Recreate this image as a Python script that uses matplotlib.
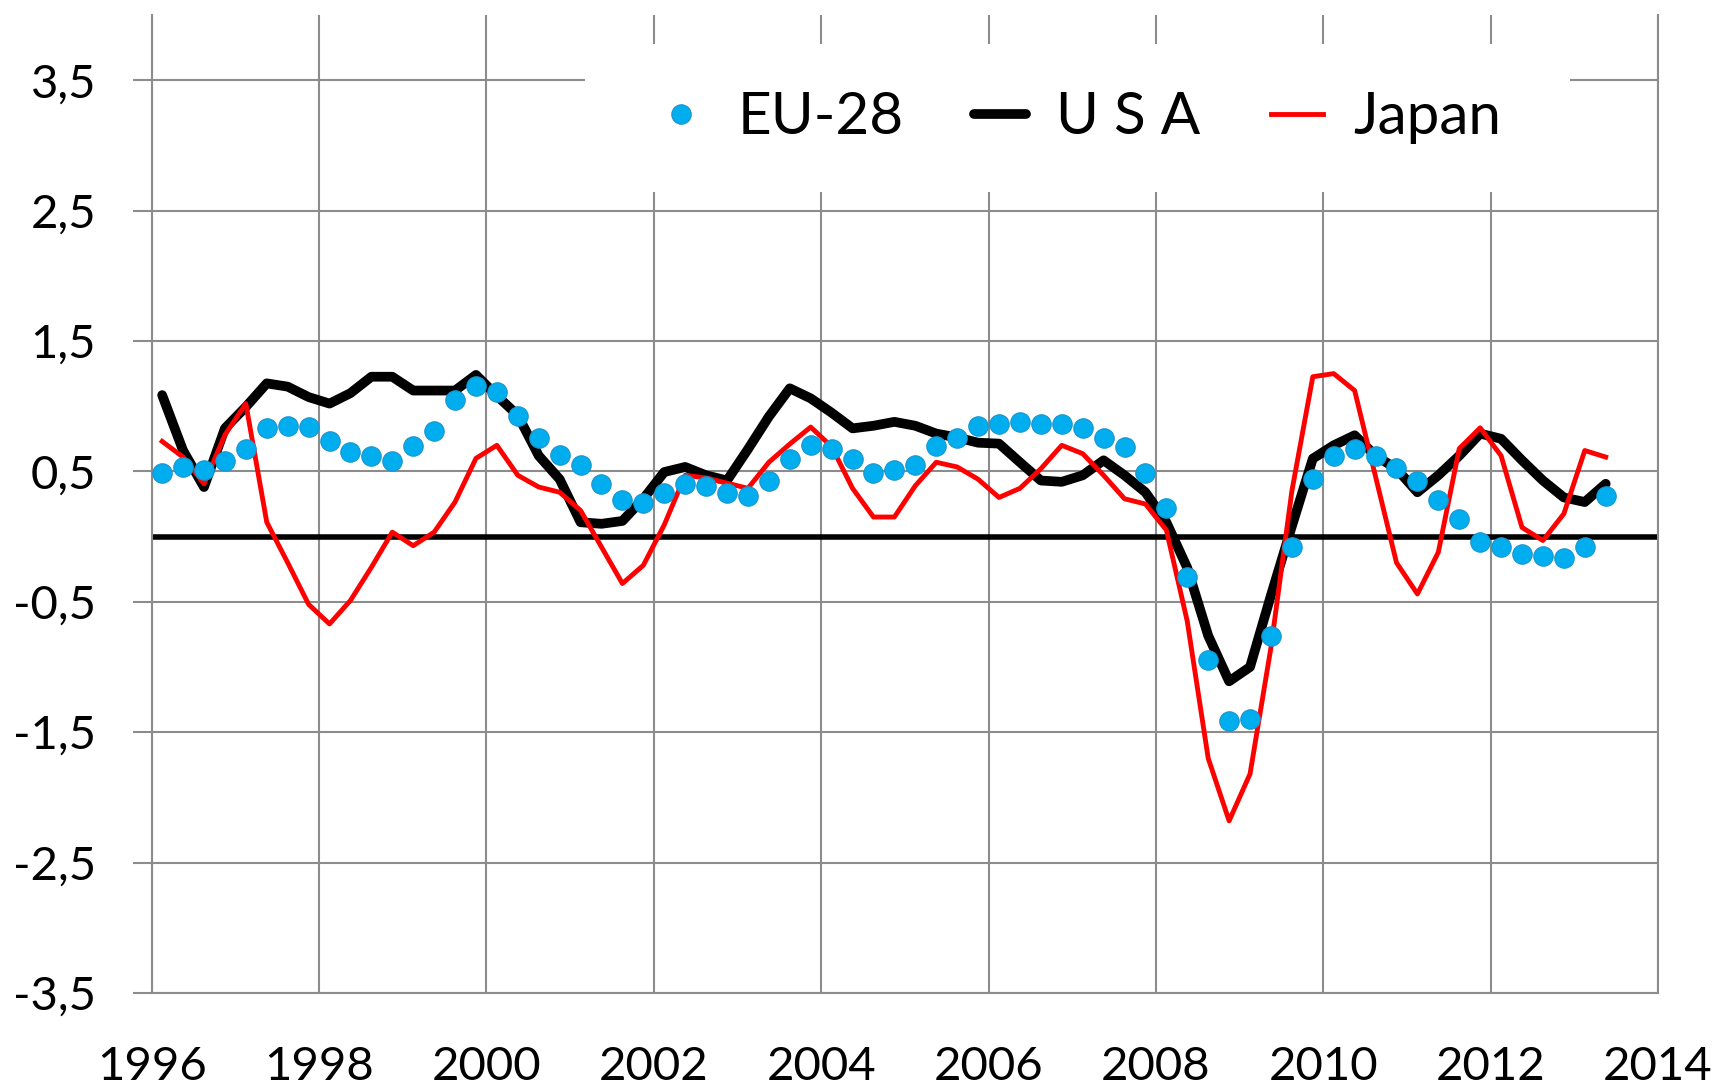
import numpy as np
import matplotlib
matplotlib.use('Agg')
import matplotlib.pyplot as plt
from matplotlib.patches import Rectangle

plt.rcParams['font.family'] = ['Lato', 'DejaVu Sans']

# quarterly values, 1996 Q1 .. 2013 Q2
eu28 = [0.49, 0.53, 0.51, 0.58, 0.67, 0.83, 0.85, 0.84, 0.73, 0.65,
        0.615, 0.58, 0.695, 0.81, 1.045, 1.155, 1.11, 0.925, 0.757, 0.628,
        0.546, 0.405, 0.277, 0.26, 0.336, 0.405, 0.388, 0.336, 0.315, 0.43,
        0.598, 0.705, 0.67, 0.598, 0.49, 0.508, 0.546, 0.695, 0.757, 0.849,
        0.867, 0.88, 0.867, 0.86, 0.834, 0.757, 0.688, 0.49, 0.22, -0.31,
        -0.95, -1.415, -1.40, -0.76, -0.08, 0.438, 0.615, 0.67, 0.615, 0.526,
        0.43, 0.277, 0.136, -0.038, -0.082, -0.133, -0.146, -0.166, -0.082, 0.315]

usa = [1.085, 0.66, 0.38, 0.83, 0.995, 1.175, 1.15, 1.07, 1.02, 1.10,
       1.226, 1.226, 1.12, 1.12, 1.12, 1.24, 1.08, 0.93, 0.62, 0.44,
       0.11, 0.098, 0.12, 0.29, 0.495, 0.534, 0.47, 0.43, 0.67, 0.92,
       1.137, 1.06, 0.95, 0.83, 0.85, 0.88, 0.85, 0.79, 0.76, 0.72,
       0.713, 0.57, 0.43, 0.42, 0.47, 0.585, 0.47, 0.34, 0.11, -0.24,
       -0.76, -1.11, -1.0, -0.45, 0.08, 0.598, 0.70, 0.777, 0.62, 0.52,
       0.34, 0.47, 0.62, 0.79, 0.75, 0.585, 0.43, 0.30, 0.265, 0.405]

japan = [0.73, 0.61, 0.405, 0.78, 1.02, 0.11, -0.2, -0.52, -0.67, -0.49,
         -0.236, 0.034, -0.07, 0.034, 0.265, 0.6, 0.70, 0.47, 0.38, 0.34,
         0.2, -0.08, -0.36, -0.22, 0.09, 0.47, 0.45, 0.41, 0.37, 0.57,
         0.71, 0.84, 0.69, 0.37, 0.15, 0.15, 0.39, 0.57, 0.534, 0.44,
         0.30, 0.37, 0.52, 0.70, 0.636, 0.47, 0.29, 0.25, 0.05, -0.65,
         -1.70, -2.18, -1.82, -0.85, 0.35, 1.226, 1.25, 1.12, 0.46, -0.2,
         -0.44, -0.12, 0.675, 0.834, 0.62, 0.07, -0.03, 0.175, 0.66, 0.61]

# mid-quarter positions
quarters = 1996 + (np.arange(len(eu28)) + 0.5) / 4

year_ticks = [1996, 1998, 2000, 2002, 2004, 2006, 2008, 2010, 2012, 2014]
y_ticks = [-3.5, -2.5, -1.5, -0.5, 0.5, 1.5, 2.5, 3.5]
y_tick_labels = ['-3,5', '-2,5', '-1,5', '-0,5', '0,5', '1,5', '2,5', '3,5']

grid_c = '#8c8c8c'

fig = plt.figure(figsize=(17.16, 10.89), dpi=100)
ax = fig.add_axes([0.0884, 0.0882, 0.8778, 0.898])

ax.set_xlim(1996, 2014)
ax.set_ylim(-3.5, 4.0)
ax.set_xticks(year_ticks)
ax.set_yticks(y_ticks)
ax.set_yticklabels(y_tick_labels)
ax.grid(True, color=grid_c, lw=1.5)
ax.set_axisbelow(True)
for s in ['left', 'right', 'bottom']:
    ax.spines[s].set_color(grid_c)
    ax.spines[s].set_linewidth(1.5)
ax.spines['top'].set_visible(False)
ax.tick_params(axis='x', length=0, pad=38, labelsize=34)
ax.tick_params(axis='y', length=14, width=1.5, color=grid_c, direction='out',
               pad=26, labelsize=34)

# white box behind the legend, hides the grid there
ax.add_patch(Rectangle((2001.18, 2.64), 11.77, 1.14, facecolor='white',
                       edgecolor='none', zorder=1.5))

ax.axhline(0, color='black', lw=4, zorder=2)
usa_h, = ax.plot(quarters, usa, color='black', lw=7, solid_joinstyle='round',
                 solid_capstyle='round', zorder=3, label='U S A')
jp_h, = ax.plot(quarters, japan, color='#ff0000', lw=3.5, zorder=4, label='Japan')
eu_h, = ax.plot(quarters, eu28, 'o', ms=14, color='#00aeef', mec='#1b94cc',
                mew=0.8, zorder=5, label='EU-28')

ax.legend(handles=[eu_h, usa_h, jp_h], ncol=3, loc='center',
          bbox_to_anchor=(0.615, 0.895), frameon=False, fontsize=42,
          handlelength=0.9, handletextpad=0.52, columnspacing=1.2,
          borderpad=0, numpoints=1)

fig.savefig('out.png', dpi=100)
